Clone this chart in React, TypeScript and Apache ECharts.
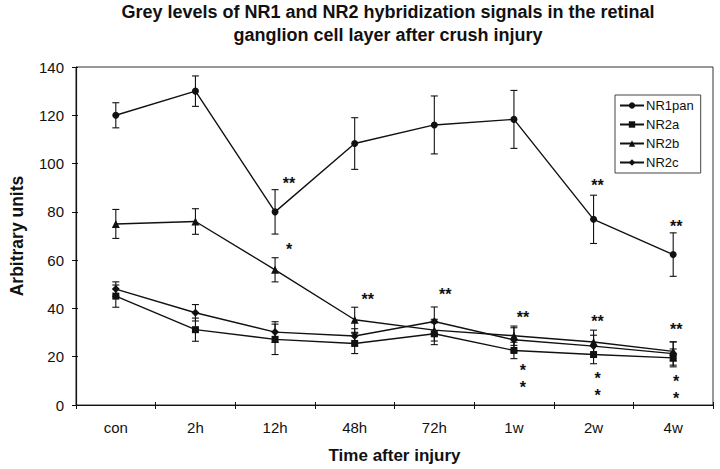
import React, { useEffect, useRef } from "react";
import * as echarts from "echarts";

const categories = ["con", "2h", "12h", "48h", "72h", "1w", "2w", "4w"];

const nr1pan = [120, 130, 80, 108.3, 116, 118.3, 76.9, 62.3];
const nr1panErr = [5.2, 6.3, 9.2, 10.7, 12, 12, 10, 9];

const nr2a = [45.1, 31.2, 27.2, 25.5, 29.5, 22.6, 20.9, 19.5];
const nr2aErr = [4.6, 4.8, 6.3, 4.2, 4.5, 3.4, 3.8, 3.7];

const nr2b = [75, 76, 56, 35.3, 31, 28.7, 26.1, 22.2];
const nr2bErr = [6, 5.3, 5, 5.2, 4.5, 4, 4.9, 4];

const nr2c = [48, 38.2, 30.2, 28.6, 34.6, 27, 24.4, 21.3];
const nr2cErr = [3, 3.4, 4.3, 3, 6, 5, 4.5, 4.8];

// significance marks: [category index, value (centre), asterisks per row, rows]
const stars = [
  [2, 92.8, 2, 1],
  [2, 65.6, 1, 1],
  [3, 45, 2, 1],
  [4, 47.2, 2, 1],
  [5, 37.5, 2, 1],
  [5, 12.1, 1, 2],
  [6, 92.2, 2, 1],
  [6, 36, 2, 1],
  [6, 8.9, 1, 2],
  [7, 75, 2, 1],
  [7, 32.5, 2, 1],
  [7, 7.3, 1, 2],
];

const yTicks = { min: 0, max: 140, interval: 20 };

// layout only: horizontal shift of the asterisks per category (px)
const STAR_DX = [0, 0, 14, 13, 11, 9, 4, 3];

const INK = "#111";
const FONT = "Liberation Sans, Arial, sans-serif";

function errorSeries(name: string, vals: number[], errs: number[]) {
  return {
    type: "custom",
    name: name,
    silent: true,
    z: 1,
    data: vals.map((v, i) => [i, v - errs[i], v + errs[i]]),
    renderItem: (_params: any, api: any) => {
      const x = api.value(0);
      const lo = api.coord([x, api.value(1)]);
      const hi = api.coord([x, api.value(2)]);
      const w = 3.5;
      const st = { stroke: INK, lineWidth: 1.1 };
      return {
        type: "group",
        children: [
          { type: "line", shape: { x1: lo[0], y1: lo[1], x2: hi[0], y2: hi[1] }, style: st },
          { type: "line", shape: { x1: lo[0] - w, y1: lo[1], x2: lo[0] + w, y2: lo[1] }, style: st },
          { type: "line", shape: { x1: hi[0] - w, y1: hi[1], x2: hi[0] + w, y2: hi[1] }, style: st },
        ],
      };
    },
  };
}

function lineSeries(name: string, vals: number[], symbol: string, size: number) {
  return {
    type: "line",
    name: name,
    data: vals,
    symbol: symbol,
    symbolSize: size,
    z: 3,
    itemStyle: { color: INK },
    lineStyle: { color: INK, width: 1.4 },
  };
}

export default function App() {
  const ref = useRef<HTMLDivElement>(null);
  useEffect(() => {
    if (!ref.current) return;
    const chart = echarts.init(ref.current, null, { renderer: "svg" });
    const option: any = {
      animation: false,
      backgroundColor: "#fff",
      title: {
        text:
          "Grey levels of NR1 and NR2 hybridization signals in the retinal\nganglion cell layer after crush injury",
        left: 388,
        top: 0,
        padding: 0,
        textAlign: "center",
        textStyle: {
          fontFamily: FONT,
          fontWeight: "bold",
          fontSize: 18,
          lineHeight: 23,
          color: INK,
        },
      },
      legend: {
        data: ["NR1pan", "NR2a", "NR2b", "NR2c"],
        orient: "vertical",
        left: 615,
        top: 95,
        padding: [4, 7, 4, 4],
        itemGap: 6,
        itemWidth: 24,
        itemHeight: 8,
        borderColor: "#444",
        borderWidth: 1,
        backgroundColor: "#fff",
        textStyle: { fontFamily: FONT, fontSize: 13, color: INK, lineHeight: 13, padding: [0, 0, 0, -3] },
      },
      grid: {
        left: 65,
        right: 7,
        top: 67,
        bottom: 62,
        show: true,
        borderColor: "#333",
        borderWidth: 1,
        backgroundColor: "transparent",
      },
      xAxis: [
        {
          type: "category",
          data: categories,
          boundaryGap: true,
          name: "Time after injury",
          nameLocation: "middle",
          nameGap: 42,
          nameTextStyle: { fontFamily: FONT, fontWeight: "bold", fontSize: 17, color: INK },
          axisLine: { lineStyle: { color: INK, width: 1.2 } },
          axisTick: { show: true, length: 4, lineStyle: { color: INK } },
          axisLabel: { fontFamily: FONT, fontSize: 15, color: INK, margin: 15 },
          splitLine: { show: false },
        },
        {
          type: "category",
          data: categories,
          boundaryGap: true,
          position: "bottom",
          axisLine: { show: false },
          axisTick: { show: true, inside: true, length: 3, lineStyle: { color: INK } },
          axisLabel: { show: false },
          splitLine: { show: false },
        },
      ],
      yAxis: [
        {
          type: "value",
          min: yTicks.min,
          max: yTicks.max,
          interval: yTicks.interval,
          name: "Arbitrary units",
          nameLocation: "middle",
          nameGap: 50,
          nameTextStyle: { fontFamily: FONT, fontWeight: "bold", fontSize: 17.5, color: INK },
          axisLine: { show: true, lineStyle: { color: INK, width: 1.2 } },
          axisTick: { show: true, length: 4, lineStyle: { color: INK } },
          axisLabel: { fontFamily: FONT, fontSize: 15, color: INK, margin: 12 },
          splitLine: { show: false },
        },
        {
          type: "value",
          min: yTicks.min,
          max: yTicks.max,
          interval: yTicks.interval,
          position: "left",
          axisLine: { show: false },
          axisTick: { show: true, inside: true, length: 2, lineStyle: { color: INK } },
          axisLabel: { show: false },
          splitLine: { show: false },
        },
      ],
      series: [
        errorSeries("NR1pan error", nr1pan, nr1panErr),
        errorSeries("NR2a error", nr2a, nr2aErr),
        errorSeries("NR2b error", nr2b, nr2bErr),
        errorSeries("NR2c error", nr2c, nr2cErr),
        lineSeries("NR1pan", nr1pan, "circle", 7),
        lineSeries("NR2a", nr2a, "rect", 7),
        lineSeries("NR2b", nr2b, "triangle", 8),
        lineSeries("NR2c", nr2c, "diamond", 8),
        {
          type: "custom",
          name: "significance",
          silent: true,
          z: 4,
          data: stars,
          renderItem: (_params: any, api: any) => {
            const idx = api.value(0);
            const pt = api.coord([idx, api.value(1)]);
            const n = api.value(2);
            const rows = api.value(3);
            const row = n === 2 ? "**" : "*";
            const text = rows === 2 ? row + "\n" + row : row;
            return {
              type: "text",
              x: pt[0] + STAR_DX[idx],
              y: pt[1] + 3,
              style: {
                text: text,
                fill: INK,
                font: "bold 16px " + FONT,
                lineHeight: 17,
                align: "center",
                verticalAlign: "middle",
              },
            };
          },
        },
      ],
    };
    chart.setOption(option);
    return () => chart.dispose();
  }, []);
  return <div ref={ref} style={{ width: 720, height: 469, position: "absolute", left: 0, top: 0 }} />;
}
